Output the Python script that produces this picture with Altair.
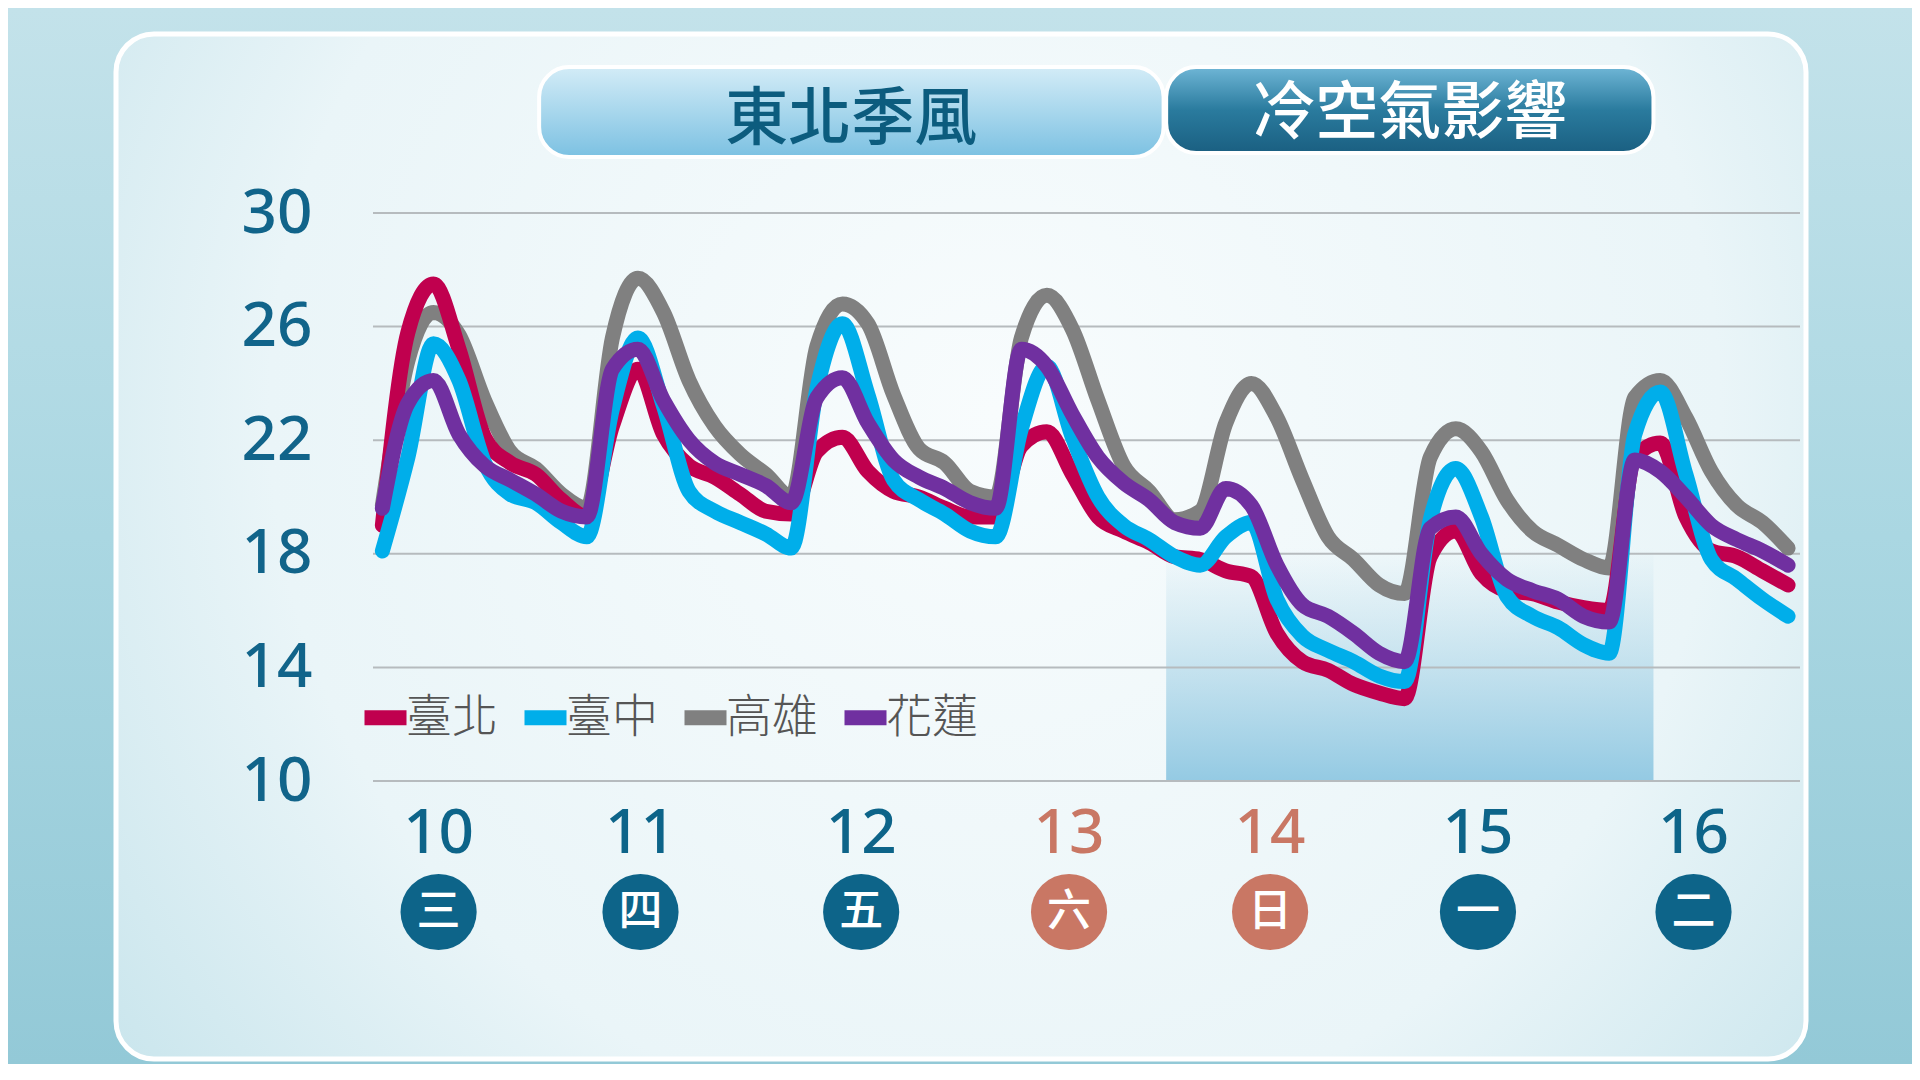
import altair as alt
import pandas as pd

# ---------------- data ----------------
hours = list(range(0, 166, 3))          # 3-hourly steps from the morning of the 10th
cities = ["臺北", "臺中", "高雄", "花蓮"]
city_colors = ["#c0004e", "#00aeea", "#808080", "#7030a0"]

taipei = [19.0, 25.8, 27.5, 25.2, 22.1, 21.2, 20.8, 19.9, 19.3, 22.5,
          24.5, 22.2, 21.1, 20.7, 20.1, 19.5, 19.4, 21.6, 22.1, 20.9,
          20.2, 20.0, 19.6, 19.3, 19.3, 21.8, 22.3, 20.8, 19.3, 18.8,
          18.4, 17.9, 17.8, 17.4, 17.2, 15.2, 14.2, 13.9, 13.4, 13.1,
          12.9, 17.9, 18.8, 17.3, 16.7, 16.6, 16.3, 16.1, 16.0, 21.4,
          21.9, 19.3, 18.1, 17.9, 17.4, 16.9]
taichung = [18.1, 21.4, 25.4, 24.1, 21.2, 20.1, 19.8, 19.1, 18.6, 23.1,
            25.6, 23.2, 20.2, 19.5, 19.1, 18.7, 18.2, 23.8, 26.1, 23.6,
            20.6, 19.9, 19.4, 18.8, 18.6, 22.4, 24.6, 22.1, 20.0, 19.0,
            18.5, 17.9, 17.6, 18.6, 19.1, 16.4, 15.1, 14.6, 14.2, 13.7,
            13.5, 19.2, 21.0, 19.3, 16.5, 15.8, 15.4, 14.8, 14.5, 22.2,
            23.7, 20.8, 17.8, 17.1, 16.4, 15.8]
kaohsiung = [19.7, 24.8, 26.5, 25.7, 23.4, 21.6, 21.0, 20.1, 19.6, 25.6,
             27.7, 26.5, 24.1, 22.5, 21.5, 20.8, 20.0, 25.3, 26.8, 26.1,
             23.6, 21.7, 21.2, 20.2, 20.0, 25.6, 27.1, 25.9, 23.4, 21.1,
             20.2, 19.2, 19.5, 22.6, 24.0, 22.8, 20.6, 18.6, 17.8, 16.9,
             16.6, 21.4, 22.4, 21.6, 19.9, 18.8, 18.3, 17.8, 17.5, 23.5,
             24.1, 22.8, 20.9, 19.7, 19.1, 18.2]
hualien = [19.6, 23.3, 24.1, 22.2, 21.1, 20.6, 20.1, 19.5, 19.3, 24.5,
           25.2, 23.4, 22.0, 21.2, 20.8, 20.4, 19.8, 23.5, 24.2, 22.6,
           21.3, 20.7, 20.3, 19.8, 19.6, 25.2, 24.6, 22.9, 21.4, 20.5,
           19.9, 19.1, 18.9, 20.3, 19.7, 17.6, 16.2, 15.8, 15.2, 14.5,
           14.2, 18.9, 19.3, 18.0, 17.1, 16.7, 16.4, 15.8, 15.6, 21.3,
           20.9, 20.0, 19.0, 18.5, 18.1, 17.6]

y_ticks = [10, 14, 18, 22, 26, 30]
days = ["10", "11", "12", "13", "14", "15", "16"]
weekdays = ["三", "四", "五", "六", "日", "一", "二"]
day_hours = [6.6, 30.3, 56.2, 80.6, 104.2, 128.6, 153.9]
weekend = [False, False, False, True, True, False, False]

periods = ["東北季風", "冷空氣影響"]
period_start = [18.4, 92.0]
period_end = [91.7, 149.2]

# ---------------- tables ----------------
series = {"臺北": taipei, "臺中": taichung, "高雄": kaohsiung, "花蓮": hualien}
rows = []
for c, vals in series.items():
    for h, v in zip(hours, vals):
        rows.append({"city": c, "h": h, "t": v})
lines_df = pd.DataFrame(rows)
ticks_df = pd.DataFrame({"v": y_ticks})
days_df = pd.DataFrame({"day": days, "wd": weekdays, "h": day_hours, "weekend": weekend})
per_df = pd.DataFrame({"name": periods, "start": period_start, "end": period_end})
one = pd.DataFrame({"k": [0]})

# ---------------- layout ----------------
W, H = 1427, 568
PAD_L, PAD_T, PAD_R, PAD_B = 365, 205, 112, 283
TEAL = "#0d6489"
SALMON = "#c97764"
CJK = "Noto Sans CJK TC"

xscale = alt.Scale(domain=[-1.1, 166.4], nice=False, zero=False)
yscale = alt.Scale(domain=[10, 30], nice=False, zero=False)
yaxis = alt.Axis(values=y_ticks, grid=False, domain=False, ticks=False,
                 labelPadding=61, labelFont="Noto Sans", labelFontSize=62,
                 labelColor="#11648a", labelFontWeight=500, title=None, zindex=1)
X = lambda f: alt.X(f, type="quantitative", scale=xscale, axis=None)

page_grad = alt.LinearGradient(
    gradient="linear",
    stops=[alt.GradientStop(offset=0, color="#c3e2ea"),
           alt.GradientStop(offset=0.5, color="#aad7e2"),
           alt.GradientStop(offset=1, color="#93c9d7")],
    x1=0, x2=0, y1=0, y2=1)
card_grad = alt.RadialGradient(
    gradient="radial",
    stops=[alt.GradientStop(offset=0, color="#f8fcfd"),
           alt.GradientStop(offset=0.55, color="#eaf5f8"),
           alt.GradientStop(offset=1, color="#b6dce6")],
    x1=0.52, y1=0.42, r1=0, x2=0.52, y2=0.42, r2=0.78)
shade_grad = alt.LinearGradient(
    gradient="linear",
    stops=[alt.GradientStop(offset=0, color="rgba(160,207,228,0)"),
           alt.GradientStop(offset=0.3, color="rgba(160,207,228,0.3)"),
           alt.GradientStop(offset=1, color="rgba(148,202,227,1)")],
    x1=0, x2=0, y1=0, y2=1)
box1_grad = alt.LinearGradient(
    gradient="linear",
    stops=[alt.GradientStop(offset=0, color="#d3ecf7"),
           alt.GradientStop(offset=1, color="#7cc1e2")],
    x1=0, x2=0, y1=0, y2=1)
box2_grad = alt.LinearGradient(
    gradient="linear",
    stops=[alt.GradientStop(offset=0, color="#6fb6d6"),
           alt.GradientStop(offset=0.5, color="#2a7b9e"),
           alt.GradientStop(offset=1, color="#1a5f81")],
    x1=0, x2=0, y1=0, y2=1)

page = alt.Chart(one).mark_rect(fill=page_grad).encode(
    x=alt.value(-PAD_L), x2=alt.value(W + PAD_R),
    y=alt.value(-PAD_T), y2=alt.value(H + PAD_B))

card = alt.Chart(one).mark_rect(fill=card_grad, stroke="white", strokeWidth=5,
                                cornerRadius=38).encode(
    x=alt.value(-257), x2=alt.value(1433), y=alt.value(-179), y2=alt.value(846))

shade = alt.Chart(per_df).transform_filter(alt.datum.name == "冷空氣影響").mark_rect(
    fill=shade_grad).encode(x=X("start"), x2="end", y=alt.value(335), y2=alt.value(H))

grid = alt.Chart(ticks_df).mark_rule(color="#b6bbbe", strokeWidth=2).encode(
    y=alt.Y("v:Q", scale=yscale, axis=yaxis), x=alt.value(0), x2=alt.value(W))

box1 = alt.Chart(per_df).transform_filter(alt.datum.name == "東北季風").mark_rect(
    fill=box1_grad, stroke="white", strokeWidth=4, cornerRadius=30).encode(
    x=X("start"), x2="end", y=alt.value(-146), y2=alt.value(-56))
box2 = alt.Chart(per_df).transform_filter(alt.datum.name == "冷空氣影響").mark_rect(
    fill=box2_grad, stroke="white", strokeWidth=4, cornerRadius=30).encode(
    x=X("start"), x2="end", y=alt.value(-146), y2=alt.value(-60))

txt1 = alt.Chart(per_df).transform_filter(alt.datum.name == "東北季風").transform_calculate(
    mid="(datum.start + datum.end) / 2").mark_text(
    font=CJK, fontSize=63, fontWeight=500, color="#0c5c7e", baseline="middle").encode(
    x=X("mid"), y=alt.value(-93), text="name:N")
txt2 = alt.Chart(per_df).transform_filter(alt.datum.name == "冷空氣影響").transform_calculate(
    mid="(datum.start + datum.end) / 2").mark_text(
    font=CJK, fontSize=63, fontWeight=500, color="white", baseline="middle").encode(
    x=X("mid"), y=alt.value(-99), text="name:N")

wk_color = alt.condition("datum.weekend", alt.value(SALMON), alt.value(TEAL))
day_txt = alt.Chart(days_df).mark_text(font="Noto Sans", fontSize=62, fontWeight=500,
                                       baseline="middle").encode(
    x=X("h"), y=alt.value(621), text="day:N", color=wk_color)
circ = alt.Chart(days_df).mark_circle(size=5800, opacity=1).encode(
    x=X("h"), y=alt.value(699), color=wk_color)
wd_txt = alt.Chart(days_df).mark_text(font=CJK, fontSize=44, fontWeight=500,
                                      color="white", baseline="middle").encode(
    x=X("h"), y=alt.value(700), text="wd:N")

legend = alt.Legend(orient="none", legendX=-16, legendY=476, direction="horizontal",
                    title=None, symbolType="stroke", symbolStrokeWidth=15,
                    symbolSize=1764, labelFont=CJK, labelFontSize=46,
                    labelFontWeight=300, labelColor="#555555",
                    columnPadding={"expr": "-4"}, labelOffset={"expr": "-8"}, padding=0)
cscale = alt.Scale(domain=cities, range=city_colors)

line_layers = []
for c in ["高雄", "臺北", "臺中", "花蓮"]:
    line_layers.append(
        alt.Chart(lines_df).transform_filter(alt.datum.city == c).mark_line(
            strokeWidth=15, strokeCap="round", strokeJoin="round",
            interpolate="monotone").encode(
            x=X("h"),
            y=alt.Y("t:Q", scale=yscale, axis=yaxis),
            color=alt.Color("city:N", scale=cscale, legend=legend)))

chart = alt.layer(page, card, shade, grid, box1, box2, txt1, txt2,
                  day_txt, circ, wd_txt, *line_layers).properties(
    width=W, height=H,
    autosize=alt.AutoSizeParams(type="none"),
    padding={"left": PAD_L, "top": PAD_T, "right": PAD_R, "bottom": PAD_B},
).configure_view(stroke=None).configure(background="#a6d4df")

chart.save("out.html", embed_options={"renderer": "svg", "actions": False})
